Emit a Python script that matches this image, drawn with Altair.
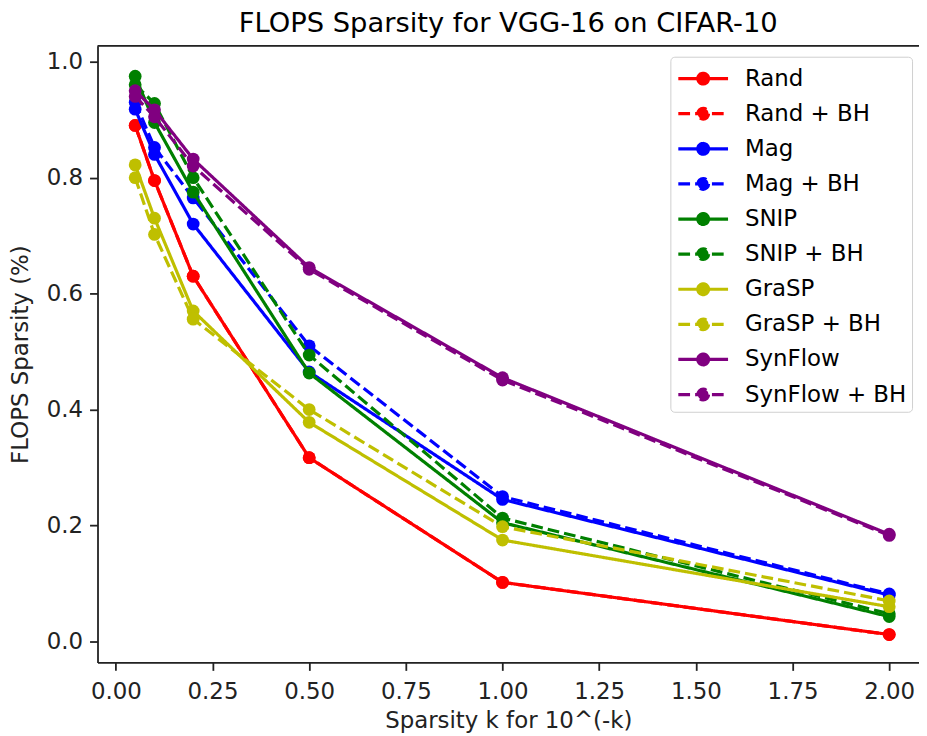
import altair as alt
import pandas as pd

x_vals = [0.05, 0.1, 0.2, 0.5, 1.0, 2.0]

series_names = ["Rand", "Rand + BH", "Mag", "Mag + BH", "SNIP", "SNIP + BH",
                "GraSP", "GraSP + BH", "SynFlow", "SynFlow + BH"]
series_colors = ["#ff0000", "#ff0000", "#0000ff", "#0000ff", "#008000", "#008000",
                 "#bfbf00", "#bfbf00", "#800080", "#800080"]
series_dashed = [False, True, False, True, False, True, False, True, False, True]

rand = [0.890, 0.795, 0.630, 0.317, 0.102, 0.012]
rand_bh = [0.890, 0.795, 0.630, 0.317, 0.102, 0.012]
mag = [0.918, 0.840, 0.720, 0.465, 0.245, 0.080]
mag_bh = [0.930, 0.852, 0.765, 0.510, 0.250, 0.082]
snip = [0.975, 0.895, 0.775, 0.463, 0.205, 0.043]
snip_bh = [0.960, 0.928, 0.800, 0.494, 0.213, 0.048]
grasp = [0.822, 0.730, 0.570, 0.378, 0.175, 0.060]
grasp_bh = [0.800, 0.702, 0.556, 0.400, 0.198, 0.070]
synflow = [0.950, 0.917, 0.832, 0.645, 0.455, 0.185]
synflow_bh = [0.940, 0.905, 0.820, 0.642, 0.451, 0.183]

all_values = [rand, rand_bh, mag, mag_bh, snip, snip_bh, grasp, grasp_bh, synflow, synflow_bh]

rows = []
for name, vals in zip(series_names, all_values):
    for xv, yv in zip(x_vals, vals):
        rows.append({"series": name, "k": xv, "flops": yv})
df = pd.DataFrame(rows)

FONT = "DejaVu Sans"
FS = 23
X_DOMAIN = [-0.0474, 2.077]
Y_DOMAIN = [-0.036, 1.0274]

legend_path = ("M-1.667,0H1.667M-0.36,0A0.36,0.36,0,1,1,0.36,0A0.36,0.36,0,1,1,-0.36,0Z")

legend = alt.Legend(
    title=None,
    orient="none",
    legendX=576,
    legendY=11,
    symbolType=legend_path,
    symbolSize=900,
    symbolStrokeWidth=3.2,
    symbolOpacity=1,
    symbolOffset=11,
    labelFont=FONT,
    labelFontSize=FS,
    labelColor="#000000",
    labelOffset=25,
    labelLimit=400,
    rowPadding=6.3,
    padding=5,
    fillColor="#ffffff",
    strokeColor="#d0d0d0",
    cornerRadius=4,
)

color_enc = alt.Color("series:N",
                      scale=alt.Scale(domain=series_names, range=series_colors),
                      legend=legend)
dash_enc = alt.StrokeDash("series:N",
                          scale=alt.Scale(domain=series_names,
                                          range=[[11.8, 5.1] if d else [1, 0] for d in series_dashed]),
                          legend=legend)

axis_common = dict(grid=False, tickSize=8, tickWidth=1.8, tickColor="#222",
                   domainColor="#222", domainWidth=1.8,
                   labelFont=FONT, labelFontSize=FS, labelColor="#222",
                   titleFont=FONT, titleFontSize=FS, titleFontWeight="normal",
                   titleColor="#222", labelFlush=False)

x_enc = alt.X("k:Q", scale=alt.Scale(domain=X_DOMAIN, nice=False, zero=False),
              axis=alt.Axis(title="Sparsity k for 10^(-k)",
                            values=[0, 0.25, 0.5, 0.75, 1.0, 1.25, 1.5, 1.75, 2.0],
                            format=".2f", labelPadding=10, titlePadding=6,
                            **axis_common))
y_enc = alt.Y("flops:Q", scale=alt.Scale(domain=Y_DOMAIN, nice=False, zero=False),
              axis=alt.Axis(title="FLOPS Sparsity (%)",
                            values=[0, 0.2, 0.4, 0.6, 0.8, 1.0],
                            format=".1f", labelPadding=7, titlePadding=14,
                            **axis_common))

base = alt.Chart(df)
# invisible filled-point layer first so the merged legend symbols get filled
layers = [base.mark_point(filled=True, size=0).encode(
    x=x_enc, y=y_enc, color=color_enc, strokeDash=dash_enc)]
for name in series_names:
    sub = base.transform_filter(alt.datum.series == name)
    layers.append(sub.mark_line(strokeWidth=3.2).encode(
        x=x_enc, y=y_enc, color=color_enc, strokeDash=dash_enc))
    layers.append(sub.mark_point(filled=True, size=165, opacity=1).encode(
        x=x_enc, y=y_enc, color=color_enc))

top_frame = alt.Chart(pd.DataFrame({"top": [Y_DOMAIN[1]]})).mark_rule(
    color="#222", strokeWidth=1.8).encode(y=alt.Y("top:Q"))

chart = alt.layer(*layers, top_frame).properties(
    width=826,
    height=620,
    title=alt.TitleParams("FLOPS Sparsity for VGG-16 on CIFAR-10", font=FONT,
                          fontSize=27.5, fontWeight="normal", color="#000000",
                          anchor="middle", offset=7),
    padding={"left": 90, "top": 36, "right": 0, "bottom": 70},
    autosize=alt.AutoSizeParams(type="none"),
).configure_view(stroke=None).configure(background="#ffffff")

chart.save("out.html", embed_options={"renderer": "svg", "actions": False})
